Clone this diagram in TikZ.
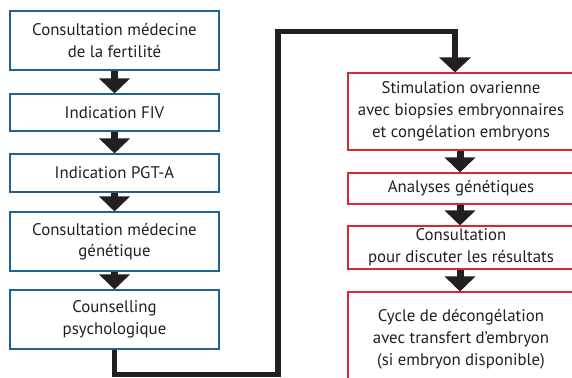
\documentclass[tikz,border=0pt]{standalone}
\usepackage{fontspec}
\setmainfont{PT Sans}
\usetikzlibrary{arrows.meta}
\definecolor{leftblue}{HTML}{1F6490}
\definecolor{rightred}{HTML}{E0242F}
\definecolor{inkgray}{HTML}{231F20}
\tikzset{
leftbox/.style={draw=leftblue, line width=1.1pt, text=inkgray, align=center,
    minimum width=209pt, inner sep=0pt, font=\fontsize{16.8}{21.5}\selectfont},
rightbox/.style={draw=rightred, line width=1.1pt, text=inkgray, align=center,
    minimum width=226pt, inner sep=0pt, font=\fontsize{16.8}{22}\selectfont},
flowArrow/.style={draw=inkgray, line width=7pt,
    -{Triangle[width=30pt,length=15pt]}},
linkLine/.style={draw=inkgray, line width=5.5pt,
    -{Triangle[width=31pt,length=15pt]}}
}

\begin{document}
\begin{tikzpicture}[x=1pt,y=-1pt]
    \clip (0,0) rectangle (572,377);
    % left column
    \node[leftbox, minimum height=59pt] (consult) at (114.5,40.5) {Consultation médecine\\de la fertilité};
    \node[leftbox, minimum height=37pt] (fiv) at (114.5,112.5) {Indication FIV};
    \node[leftbox, minimum height=38pt] (pgta) at (114.5,173) {Indication PGT-A};
    \node[leftbox, minimum height=59pt] (genet) at (114.5,241.5) {Consultation médecine\\génétique};
    \node[leftbox, minimum height=59pt] (psycho) at (114.5,319.5) {Counselling\\psychologique};
    % right column
    \node[rightbox, minimum height=77pt] (stim) at (461,111.5) {Stimulation ovarienne\\avec biopsies embryonnaires\\et congélation embryons};
    \node[rightbox, minimum height=31pt] (analyses) at (461,188.5) {Analyses génétiques};
    \node[rightbox, minimum height=43pt] (resultats) at (461,247.5) {Consultation\\pour discuter les résultats};
    \node[rightbox, minimum height=94pt] (transfert) at (461,339) {Cycle de décongélation\\avec transfert d’embryon\\(si embryon disponible)};
    % arrows
    \draw[flowArrow] (consult) -- (fiv);
    \draw[flowArrow] (fiv) -- (pgta);
    \draw[flowArrow] (pgta) -- (genet);
    \draw[flowArrow] (genet) -- (psycho);
    \draw[flowArrow] ([xshift=-1pt]stim.south) -- ([xshift=-1pt]analyses.north);
    \draw[flowArrow] ([xshift=-1pt]analyses.south) -- ([xshift=-1pt]resultats.north);
    \draw[flowArrow] ([xshift=-1pt]resultats.south) -- ([xshift=-1pt]transfert.north);
    % link between the columns
    \coordinate (lowTurn) at (278,374.5);
    \coordinate (topTurn) at (455,31.5);
    \draw[linkLine] (psycho.south) |- (lowTurn) |- (topTurn) -- (topTurn |- stim.north);
\end{tikzpicture}
\end{document}
